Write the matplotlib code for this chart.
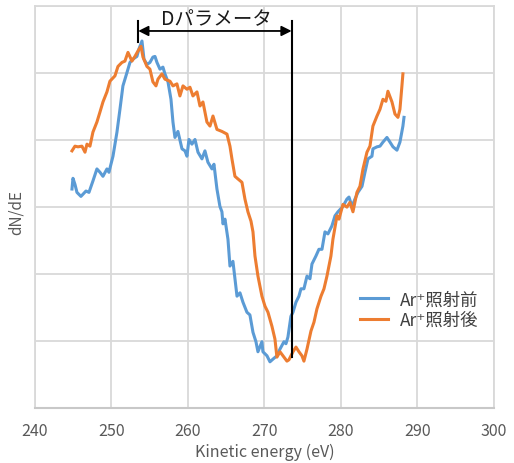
import numpy as np
import matplotlib
matplotlib.use("Agg")
import matplotlib.pyplot as plt

plt.rcParams['font.family'] = ['Noto Sans CJK JP', 'DejaVu Sans']

# Ar+ before irradiation (blue)
before_ev = [244.84, 244.97, 245.23, 245.49, 246.01, 246.67, 247.06, 247.58, 248.10, 248.50,
             248.89, 249.41, 249.67, 250.20, 250.72, 251.11, 251.50, 252.03, 252.42, 252.81,
             253.33, 253.59, 253.99, 254.25, 254.64, 255.03, 255.42, 255.69, 255.95, 256.34,
             256.73, 256.99, 257.39, 257.78, 258.04, 258.30, 258.69, 259.22, 259.61, 259.87,
             260.13, 260.52, 260.92, 261.31, 261.83, 262.22, 262.61, 263.14, 263.40, 263.79,
             264.18, 264.44, 264.58, 264.84, 265.23, 265.49, 265.88, 266.41, 266.80, 267.19,
             267.71, 268.10, 268.50, 268.89, 269.15, 269.67, 269.80, 270.33, 270.72, 271.11,
             271.63, 272.03, 272.55, 272.81, 273.07, 273.46, 273.73, 274.12, 274.51, 274.77,
             275.16, 275.56, 275.95, 276.21, 276.73, 277.12, 277.52, 277.91, 278.30, 278.82,
             279.22, 279.61, 280.26, 280.78, 281.05, 281.44, 281.83, 282.22, 282.75, 283.14,
             283.53, 284.05, 284.18, 284.71, 285.10, 285.49, 286.01, 286.41, 286.80, 287.32,
             287.71, 288.10, 288.24]
before_val = [3.27, 3.43, 3.34, 3.22, 3.16, 3.24, 3.22, 3.39, 3.57, 3.52,
              3.46, 3.57, 3.52, 3.76, 4.12, 4.46, 4.81, 5.01, 5.16, 5.21,
              5.25, 5.36, 5.48, 5.21, 5.13, 5.16, 5.24, 5.25, 5.16, 5.06,
              5.09, 4.99, 4.87, 4.61, 4.27, 4.04, 4.13, 3.87, 3.84, 3.76,
              4.01, 3.94, 4.01, 3.82, 3.72, 3.84, 3.67, 3.57, 3.64, 3.27,
              3.01, 2.93, 2.75, 2.82, 2.52, 2.12, 2.19, 1.67, 1.72, 1.58,
              1.43, 1.39, 1.13, 0.99, 0.84, 0.99, 0.84, 0.78, 0.69, 0.73,
              0.78, 0.88, 0.99, 0.96, 1.06, 1.37, 1.43, 1.58, 1.67, 1.78,
              1.78, 1.97, 1.93, 2.15, 2.27, 2.37, 2.37, 2.63, 2.60, 2.72,
              2.87, 2.93, 3.01, 3.12, 3.15, 3.01, 3.12, 3.22, 3.31, 3.52,
              3.72, 3.76, 3.87, 3.90, 3.91, 3.97, 4.04, 3.97, 3.90, 3.85,
              3.97, 4.21, 4.34]

# Ar+ after irradiation (orange)
after_ev = [244.84, 245.23, 245.62, 246.14, 246.54, 246.80, 247.19, 247.58, 248.10, 248.50,
            248.89, 249.41, 249.80, 250.46, 250.85, 251.37, 251.76, 252.16, 252.68, 253.07,
            253.46, 253.86, 254.12, 254.64, 255.03, 255.42, 255.82, 256.08, 256.60, 256.99,
            257.65, 258.04, 258.56, 258.95, 259.35, 259.87, 260.26, 260.65, 261.18, 261.57,
            261.96, 262.48, 262.88, 263.27, 263.79, 264.44, 265.10, 265.49, 265.75, 266.14,
            266.54, 267.06, 267.45, 267.84, 268.24, 268.50, 268.76, 269.15, 269.67, 270.07,
            270.46, 270.98, 271.37, 271.63, 272.03, 272.42, 272.94, 273.20, 273.73, 274.12,
            274.51, 274.90, 275.16, 275.56, 276.08, 276.47, 276.86, 277.39, 277.78, 278.17,
            278.69, 278.95, 279.48, 279.74, 280.26, 280.78, 281.18, 281.57, 282.09, 282.48,
            282.88, 283.40, 283.79, 284.18, 284.71, 285.10, 285.49, 285.88, 286.14, 286.67,
            287.06, 287.45, 287.71, 287.97, 288.10]
after_val = [3.84, 3.91, 3.90, 3.91, 3.82, 3.94, 3.91, 4.12, 4.27, 4.42,
             4.57, 4.72, 4.88, 4.96, 5.10, 5.16, 5.18, 5.31, 5.18, 5.25,
             5.33, 5.40, 5.24, 5.10, 5.06, 4.87, 4.81, 4.91, 4.99, 4.91,
             4.88, 4.81, 4.84, 4.66, 4.81, 4.76, 4.79, 4.66, 4.72, 4.51,
             4.57, 4.27, 4.21, 4.36, 4.16, 4.13, 4.09, 3.91, 3.72, 3.46,
             3.42, 3.37, 3.12, 2.93, 2.79, 2.63, 2.27, 1.97, 1.67, 1.52,
             1.43, 1.22, 1.03, 0.76, 0.84, 0.78, 0.70, 0.72, 0.84, 0.91,
             0.84, 0.78, 0.70, 0.88, 1.15, 1.28, 1.48, 1.67, 1.78, 1.97,
             2.27, 2.52, 2.87, 2.82, 3.04, 3.00, 3.07, 2.93, 3.22, 3.31,
             3.57, 3.82, 3.91, 4.21, 4.36, 4.46, 4.61, 4.58, 4.73, 4.57,
             4.39, 4.34, 4.46, 4.81, 4.99]

labels = ['Ar⁺照射前', 'Ar⁺照射後']
x_ticks = [240, 250, 260, 270, 280, 290, 300]

# D parameter marker positions (eV)
d_start = 253.5
d_end = 273.55

fig = plt.figure(figsize=(5.14, 4.64), dpi=100)
ax = fig.add_axes([0.068, 0.1185, 0.893, 0.866])

grid_c = '#d9d9d9'
ax.set_xlim(240, 300)
ax.set_ylim(0, 6)
ax.set_xticks(x_ticks)
ax.set_yticks(np.arange(0, 7, 1))
ax.set_yticklabels([])
ax.grid(True, color=grid_c, lw=1.3)
ax.set_axisbelow(True)
for s in ['top', 'right', 'left']:
    ax.spines[s].set_color(grid_c)
    ax.spines[s].set_linewidth(1.3)
ax.spines['bottom'].set_color('#c8c8c8')
ax.spines['bottom'].set_linewidth(1.5)
ax.tick_params(length=0, labelsize=11.5, labelcolor='#595959', pad=10)

ax.plot(before_ev, before_val, color='#5B9BD5', lw=2.2, label=labels[0])
ax.plot(after_ev, after_val, color='#ED7D31', lw=2.2, label=labels[1])

ax.set_xlabel('Kinetic energy (eV)', fontsize=11.5, color='#595959', va='center')
ax.xaxis.set_label_coords(0.501, -0.107)
ax.set_ylabel('dN/dE', fontsize=11, color='#595959', va='center')
ax.yaxis.set_label_coords(-0.04, 0.49)

# D parameter annotation
ax.plot([d_end, d_end], [5.78, 0.76], color='black', lw=1.5)
ax.plot([d_start, d_start], [5.78, 5.46], color='black', lw=1.5)
ax.annotate('', xy=(d_end, 5.63), xytext=(d_start, 5.63),
            arrowprops=dict(arrowstyle='<|-|>', color='black', lw=1.3,
                            mutation_scale=15, shrinkA=0, shrinkB=0))
ax.text((d_start + d_end) / 2 + 0.2, 5.82, 'Dパラメータ', ha='center', va='center',
        fontsize=14, color='#1a1a1a')

ax.legend(loc='center left', bbox_to_anchor=(0.675, 0.245), frameon=False,
          fontsize=12.5, handlelength=1.6, handletextpad=0.7,
          labelspacing=0.15, labelcolor='#404040')

fig.savefig('out.png', dpi=100)
